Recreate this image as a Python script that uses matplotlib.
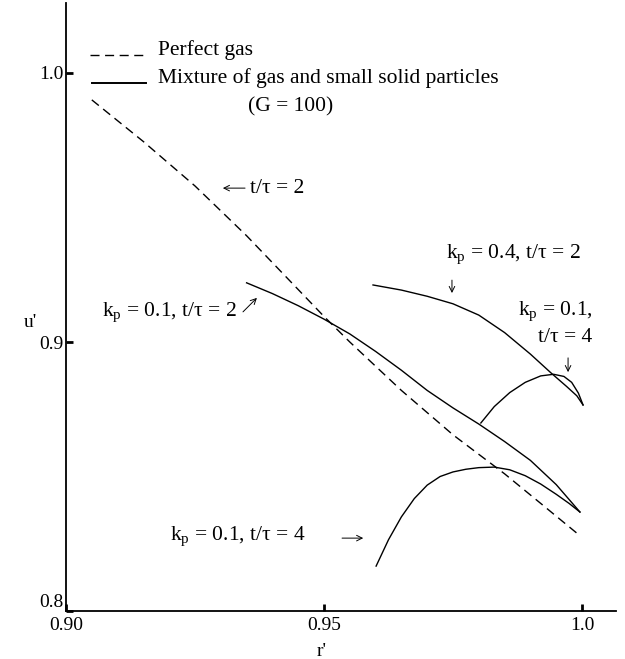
import matplotlib
matplotlib.use('Agg')
import matplotlib.pyplot as plt
import numpy as np

plt.rcParams['font.family'] = ['Liberation Serif', 'DejaVu Serif']
plt.rcParams['mathtext.fontset'] = 'custom'
plt.rcParams['mathtext.rm'] = 'Liberation Serif'

# perfect gas (dashed)
gas_r = [0.905, 0.915, 0.925, 0.935, 0.945, 0.950, 0.955, 0.965, 0.975, 0.985, 0.992, 0.9996]
gas_u = [0.990, 0.9745, 0.958, 0.9395, 0.9195, 0.9095, 0.900, 0.882, 0.8655, 0.851, 0.840, 0.828]

# k_p = 0.1, t/tau = 2
k1t2_r = [0.935, 0.940, 0.945, 0.950, 0.955, 0.960, 0.965, 0.970, 0.975, 0.980,
          0.985, 0.990, 0.995, 0.9996]
k1t2_u = [0.9220, 0.9180, 0.9135, 0.9085, 0.9030, 0.8965, 0.8895, 0.8820, 0.8755, 0.8695,
          0.8630, 0.8560, 0.8470, 0.8368]

# k_p = 0.1, t/tau = 4 (lower)
k1t4_r = [0.9601, 0.9625, 0.9650, 0.9675, 0.9700, 0.9725, 0.9750, 0.9775, 0.9800, 0.9830,
          0.9860, 0.9890, 0.9920, 0.9950, 0.9975, 0.9996]
k1t4_u = [0.8167, 0.8265, 0.8350, 0.8418, 0.8468, 0.8500, 0.8517, 0.8527, 0.8533, 0.8535,
          0.8525, 0.8503, 0.8472, 0.8434, 0.8400, 0.8368]

# k_p = 0.4, t/tau = 2
k4t2_r = [0.9595, 0.9650, 0.9700, 0.9750, 0.9800, 0.9850, 0.9900, 0.9940, 0.9970, 0.9990, 1.0002]
k4t2_u = [0.9212, 0.9193, 0.9170, 0.9142, 0.9100, 0.9035, 0.8955, 0.8885, 0.8835, 0.8800, 0.8766]

# k_p = 0.1, t/tau = 4 (upper dome)
dome_r = [0.9804, 0.9830, 0.9860, 0.9890, 0.9920, 0.9945, 0.9965, 0.9980, 0.9993, 1.0002]
dome_u = [0.8699, 0.8760, 0.8812, 0.8850, 0.8874, 0.8880, 0.8872, 0.8850, 0.8810, 0.8766]

fig = plt.figure(figsize=(6.25, 6.59), dpi=100)
ax = fig.add_axes([0.1056, 0.0728, 0.88, 0.9226])

lw = 1.0
dash = (6.5, 4)
ax.plot(gas_r, gas_u, color='black', lw=lw, dashes=dash)
for r, u in [(k1t2_r, k1t2_u), (k1t4_r, k1t4_u), (k4t2_r, k4t2_u), (dome_r, dome_u)]:
    ax.plot(r, u, color='black', lw=lw)

ax.set_xlim(0.90, 1.00659)
ax.set_ylim(0.8, 1.026)
ax.spines['top'].set_visible(False)
ax.spines['right'].set_visible(False)
for s in ['left', 'bottom']:
    ax.spines[s].set_linewidth(1.3)

ax.set_xticks([0.90, 0.95, 1.0])
ax.set_xticklabels(['0.90', '0.95', '1.0'])
ax.set_yticks([0.8, 0.9, 1.0])
ax.set_yticklabels(['0.8', '0.9', '1.0'])
ax.tick_params(direction='in', length=5, width=2, labelsize=14)
ax.tick_params(axis='x', pad=4)
ax.tick_params(axis='y', pad=2)
ax.get_yticklabels()[0].set_verticalalignment('bottom')

ax.text(0.465, -0.067, "r'", fontsize=14, transform=ax.transAxes, ha='center', va='center')
ax.text(-0.065, 0.475, "u'", fontsize=14, transform=ax.transAxes, ha='center', va='center')

fs = 15.5
# legend
ax.plot([0.9047, 0.9157], [1.0067, 1.0067], color='black', lw=lw, dashes=dash)
ax.plot([0.9051, 0.9155], [0.9963, 0.9963], color='black', lw=1.4)
ax.text(0.9178, 1.0086, 'Perfect gas', fontsize=fs, va='center')
ax.text(0.9178, 0.9981, 'Mixture of gas and small solid particles', fontsize=fs, va='center')
ax.text(0.9353, 0.9874, '(G = 100)', fontsize=fs, va='center')

arrow = dict(arrowstyle='->', lw=0.7, color='black', shrinkA=0, shrinkB=0)

ax.text(0.9357, 0.9572, 't/τ = 2', fontsize=fs, va='center')
ax.annotate('', xy=(0.9304, 0.9572), xytext=(0.9347, 0.9572), arrowprops=arrow)

ax.text(0.9331, 0.9108, r'k$_\mathregular{p}$ = 0.1, t/τ = 2', fontsize=fs, va='center', ha='right')
ax.annotate('', xy=(0.9370, 0.9164), xytext=(0.9343, 0.9112), arrowprops=arrow)

ax.text(0.9866, 0.9323, r'k$_\mathregular{p}$ = 0.4, t/τ = 2', fontsize=fs, va='center', ha='center')
ax.annotate('', xy=(0.9748, 0.9182), xytext=(0.9748, 0.9230), arrowprops=arrow)

ax.text(0.9876, 0.9112, r'k$_\mathregular{p}$ = 0.1,', fontsize=fs, va='center')
ax.text(0.9915, 0.9015, 't/τ = 4', fontsize=fs, va='center')
ax.annotate('', xy=(0.9973, 0.8888), xytext=(0.9973, 0.8941), arrowprops=arrow)

ax.text(0.9202, 0.8275, r'k$_\mathregular{p}$ = 0.1, t/τ = 4', fontsize=fs, va='center')
ax.annotate('', xy=(0.9576, 0.8271), xytext=(0.9535, 0.8271), arrowprops=arrow)

fig.savefig('out.png', dpi=100)
